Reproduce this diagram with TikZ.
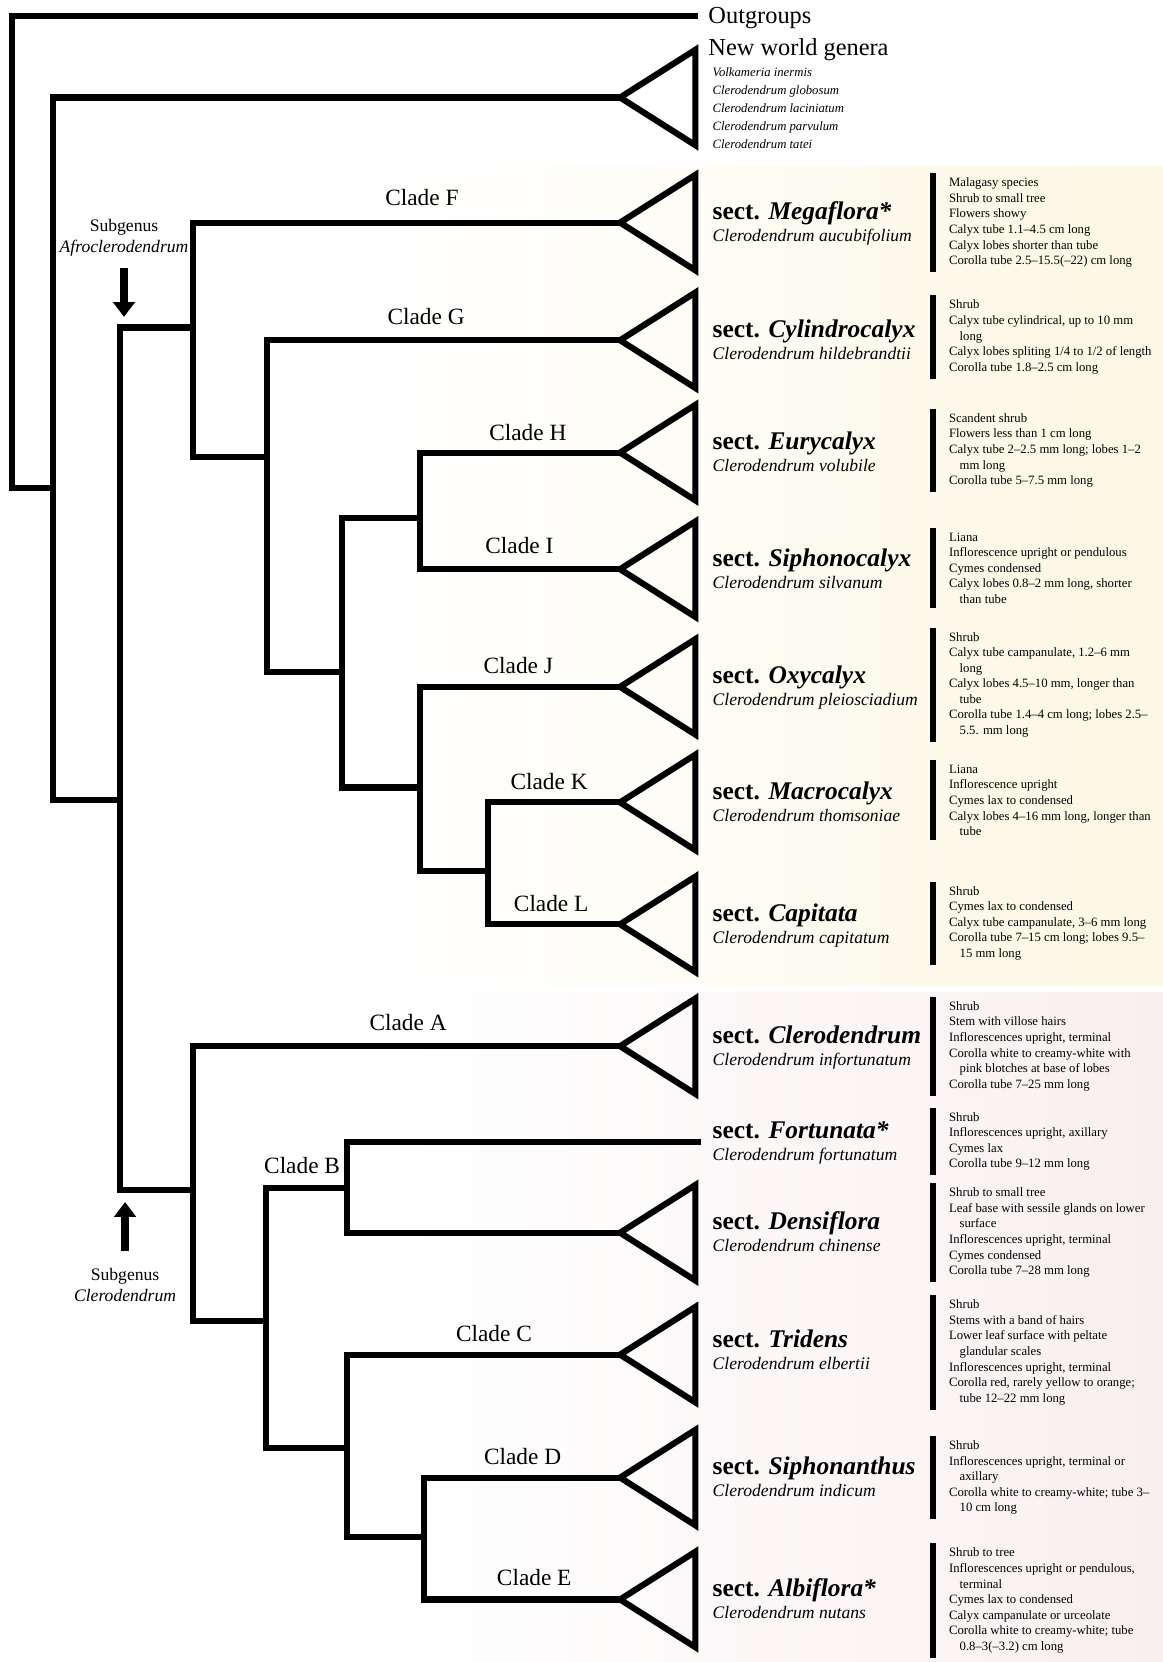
\documentclass[tikz,border=0pt]{standalone}
\usepackage{fontspec}
\setmainfont{Liberation Serif}
\usepackage{xcolor}
\usetikzlibrary{arrows.meta,positioning}
\definecolor{cream}{RGB}{252,247,227}
\definecolor{blush}{RGB}{250,239,240}
\colorlet{branch line}{black}
\def\collapsed{-- ++(71,-45) -- ++(0,90) -- cycle}
\newcommand\wrapind{\hspace*{5pt}}
\tikzset{branch/.style={draw=branch line, line width=2.9pt, line cap=rect},
    collapsed/.style={draw=branch line, line width=2.9pt, line join=miter},
    title/.style={anchor=west, inner sep=0pt, font=\fontsize{11.5}{13.8}\selectfont},
    clade label/.style={inner sep=0pt, font=\fontsize{11}{13}\selectfont},
    section/.style={anchor=base west, inner sep=0pt, font=\fontsize{12}{14}\selectfont\bfseries},
    species/.style={anchor=base west, inner sep=0pt, font=\fontsize{8.3}{10}\selectfont\itshape},
    traits/.style={anchor=west, align=left, inner xsep=7.5pt, inner ysep=2pt,
        font=\fontsize{6}{7.35}\selectfont},
    trait bar/.style={line width=2.6pt},
    subgenus/.style={align=center, inner sep=0pt, font=\fontsize{8.3}{10}\selectfont},
    subgenus arrow/.style={line width=4pt, -{Triangle[width=10pt,length=7pt]}}}

\begin{document}
\begin{tikzpicture}[x=0.5pt, y=-0.5pt]
    \useasboundingbox (0,0) rectangle (1097,1568);
    % shaded bands behind the two subgenera
    \fill[left color=white, right color=cream] (380,157) rectangle (1097,930);
    \fill[left color=white, right color=blush] (380,936) rectangle (1097,1568);

    % inner nodes and tips
    \coordinate (root) at (11,460);
    \coordinate (n1)   at (50,460);
    \coordinate (n2)   at (113,755);
    \coordinate (afro) at (182,309);
    \coordinate (cler) at (182,1123);
    \coordinate (n3)   at (252,431);
    \coordinate (n4)   at (323,634);
    \coordinate (n5)   at (396,489);
    \coordinate (n6)   at (396,743);
    \coordinate (n7)   at (460,822);
    \coordinate (n8)   at (251,1246);
    \coordinate (n9)   at (327,1121);
    \coordinate (n10)  at (327,1366);
    \coordinate (n11)  at (400,1450);
    \coordinate (tOG)  at (656,15);
    \coordinate (tNW)  at (585,92);
    \coordinate (tF)   at (585,210);
    \coordinate (tG)   at (585,321);
    \coordinate (tH)   at (585,427);
    \coordinate (tI)   at (585,537);
    \coordinate (tJ)   at (585,648);
    \coordinate (tK)   at (585,757);
    \coordinate (tL)   at (585,872);
    \coordinate (tA)   at (585,987);
    \coordinate (tFo)  at (658,1077);
    \coordinate (tDe)  at (585,1163);
    \coordinate (tC)   at (585,1278);
    \coordinate (tD)   at (585,1394);
    \coordinate (tE)   at (585,1509);

    % branches
    \draw[branch] (root) |- (tOG);
    \draw[branch] (root) -- (n1);
    \draw[branch] (n1) |- (tNW);
    \draw[branch] (n1) |- (n2);
    \draw[branch] (n2) |- (afro);
    \draw[branch] (n2) |- (cler);
    \draw[branch] (afro) |- (tF);
    \draw[branch] (afro) |- (n3);
    \draw[branch] (n3) |- (tG);
    \draw[branch] (n3) |- (n4);
    \draw[branch] (n4) |- (n5);
    \draw[branch] (n4) |- (n6);
    \draw[branch] (n5) |- (tH);
    \draw[branch] (n5) |- (tI);
    \draw[branch] (n6) |- (tJ);
    \draw[branch] (n6) |- (n7);
    \draw[branch] (n7) |- (tK);
    \draw[branch] (n7) |- (tL);
    \draw[branch] (cler) |- (tA);
    \draw[branch] (cler) |- (n8);
    \draw[branch] (n8) |- (n9);
    \draw[branch] (n8) |- (n10);
    \draw[branch] (n9) |- (tFo);
    \draw[branch] (n9) |- (tDe);
    \draw[branch] (n10) |- (tC);
    \draw[branch] (n10) |- (n11);
    \draw[branch] (n11) |- (tD);
    \draw[branch] (n11) |- (tE);

    % collapsed clades
    \draw[collapsed] (tNW) \collapsed;
    \draw[collapsed] (tF) \collapsed;
    \draw[collapsed] (tG) \collapsed;
    \draw[collapsed] (tH) \collapsed;
    \draw[collapsed] (tI) \collapsed;
    \draw[collapsed] (tJ) \collapsed;
    \draw[collapsed] (tK) \collapsed;
    \draw[collapsed] (tL) \collapsed;
    \draw[collapsed] (tA) \collapsed;
    \draw[collapsed] (tDe) \collapsed;
    \draw[collapsed] (tC) \collapsed;
    \draw[collapsed] (tD) \collapsed;
    \draw[collapsed] (tE) \collapsed;

    % clade labels
    \node[clade label] (lF) at (398,186)  {Clade F};
    \node[clade label] (lG) at (402,299)  {Clade G};
    \node[clade label] (lH) at (498,408)  {Clade H};
    \node[clade label] (lI) at (490,515)  {Clade I};
    \node[clade label] (lJ) at (489,628)  {Clade J};
    \node[clade label] (lK) at (518,737)  {Clade K};
    \node[clade label] (lL) at (520,852)  {Clade L};
    \node[clade label] (lA) at (385,965)  {Clade A};
    \node[clade label] (lB) at (285,1100) {Clade B};
    \node[clade label] (lC) at (466,1258) {Clade C};
    \node[clade label] (lD) at (493,1374) {Clade D};
    \node[clade label] (lE) at (504,1488) {Clade E};

    % subgenera
    \node[subgenus] (sgA) at (117,224) {Subgenus\\\textit{Afroclerodendrum}};
    \coordinate (aA1) at (117,253);
    \coordinate (aA2) at (117,299);
    \draw[subgenus arrow] (aA1) -- (aA2);
    \node[subgenus] (sgC) at (118,1212) {Subgenus\\\textit{Clerodendrum}};
    \coordinate (aC1) at (118,1180);
    \coordinate (aC2) at (118,1134);
    \draw[subgenus arrow] (aC1) -- (aC2);

    % outgroups and new world genera
    \node[title] (og) at (668,17) {Outgroups};
    \node[title] (nw) at (668,47) {New world genera};
    \node[anchor=north west, align=left, inner sep=0pt,
        font=\fontsize{6}{8.5}\selectfont\itshape] (nwList) at (672,63)
        {Volkameria inermis\\Clerodendrum globosum\\Clerodendrum laciniatum\\
         Clerodendrum parvulum\\Clerodendrum tatei};

    % sections
    \node[section] (sF)  at (672,207)  {sect. \textit{Megaflora*}};
    \node[species] (pF)  at (672,228)  {Clerodendrum aucubifolium};
    \node[section] (sG)  at (672,318)  {sect. \textit{Cylindrocalyx}};
    \node[species] (pG)  at (672,339)  {Clerodendrum hildebrandtii};
    \node[section] (sH)  at (672,424)  {sect. \textit{Eurycalyx}};
    \node[species] (pH)  at (672,445)  {Clerodendrum volubile};
    \node[section] (sI)  at (672,534)  {sect. \textit{Siphonocalyx}};
    \node[species] (pI)  at (672,555)  {Clerodendrum silvanum};
    \node[section] (sJ)  at (672,645)  {sect. \textit{Oxycalyx}};
    \node[species] (pJ)  at (672,666)  {Clerodendrum pleiosciadium};
    \node[section] (sK)  at (672,754)  {sect. \textit{Macrocalyx}};
    \node[species] (pK)  at (672,775)  {Clerodendrum thomsoniae};
    \node[section] (sL)  at (672,869)  {sect. \textit{Capitata}};
    \node[species] (pL)  at (672,890)  {Clerodendrum capitatum};
    \node[section] (sA)  at (672,984)  {sect. \textit{Clerodendrum}};
    \node[species] (pA)  at (672,1005) {Clerodendrum infortunatum};
    \node[section] (sFo) at (672,1074) {sect. \textit{Fortunata*}};
    \node[species] (pFo) at (672,1095) {Clerodendrum fortunatum};
    \node[section] (sDe) at (672,1160) {sect. \textit{Densiflora}};
    \node[species] (pDe) at (672,1181) {Clerodendrum chinense};
    \node[section] (sC)  at (672,1271) {sect. \textit{Tridens}};
    \node[species] (pC)  at (672,1292) {Clerodendrum elbertii};
    \node[section] (sD)  at (672,1391) {sect. \textit{Siphonanthus}};
    \node[species] (pD)  at (672,1412) {Clerodendrum indicum};
    \node[section] (sE)  at (672,1506) {sect. \textit{Albiflora*}};
    \node[species] (pE)  at (672,1527) {Clerodendrum nutans};

    % characters
    \node[traits] (cF) at (880,210) {Malagasy species\\Shrub to small tree\\Flowers showy\\
        Calyx tube 1.1–4.5 cm long\\Calyx lobes shorter than tube\\
        Corolla tube 2.5–15.5(–22) cm long};
    \node[traits] (cG) at (880,318) {Shrub\\Calyx tube cylindrical, up to 10 mm\\\wrapind long\\
        Calyx lobes spliting 1/4 to 1/2 of length\\Corolla tube 1.8–2.5 cm long};
    \node[traits] (cH) at (880,425) {Scandent shrub\\Flowers less than 1 cm long\\
        Calyx tube 2–2.5 mm long; lobes 1–2\\\wrapind mm long\\Corolla tube 5–7.5 mm long};
    \node[traits] (cI) at (880,536) {Liana\\Inflorescence upright or pendulous\\Cymes condensed\\
        Calyx lobes 0.8–2 mm long, shorter\\\wrapind than tube};
    \node[traits] (cJ) at (880,646) {Shrub\\Calyx tube campanulate, 1.2–6 mm\\\wrapind long\\
        Calyx lobes 4.5–10 mm, longer than\\\wrapind tube\\
        Corolla tube 1.4–4 cm long; lobes 2.5–\\\wrapind 5.5. mm long};
    \node[traits] (cK) at (880,755) {Liana\\Inflorescence upright\\Cymes lax to condensed\\
        Calyx lobes 4–16 mm long, longer than\\\wrapind tube};
    \node[traits] (cL) at (880,871) {Shrub\\Cymes lax to condensed\\
        Calyx tube campanulate, 3–6 mm long\\Corolla tube 7–15 cm long; lobes 9.5–\\\wrapind 15 mm long};
    \node[traits] (cA) at (880,987) {Shrub\\Stem with villose hairs\\Inflorescences upright, terminal\\
        Corolla white to creamy-white with\\\wrapind pink blotches at base of lobes\\
        Corolla tube 7–25 mm long};
    \node[traits] (cFo) at (880,1077) {Shrub\\Inflorescences upright, axillary\\Cymes lax\\
        Corolla tube 9–12 mm long};
    \node[traits] (cDe) at (880,1163) {Shrub to small tree\\Leaf base with sessile glands on lower\\
        \wrapind surface\\Inflorescences upright, terminal\\Cymes condensed\\Corolla tube 7–28 mm long};
    \node[traits] (cC) at (880,1276) {Shrub\\Stems with a band of hairs\\Lower leaf surface with peltate\\
        \wrapind glandular scales\\Inflorescences upright, terminal\\
        Corolla red, rarely yellow to orange;\\\wrapind tube 12–22 mm long};
    \node[traits] (cD) at (880,1394) {Shrub\\Inflorescences upright, terminal or\\\wrapind axillary\\
        Corolla white to creamy-white; tube 3–\\\wrapind 10 cm long};
    \node[traits] (cE) at (880,1510) {Shrub to tree\\Inflorescences upright or pendulous,\\\wrapind terminal\\
        Cymes lax to condensed\\Calyx campanulate or urceolate\\
        Corolla white to creamy-white; tube\\\wrapind 0.8–3(–3.2) cm long};
    \draw[trait bar] (cF.north west) -- (cF.south west);
    \draw[trait bar] (cG.north west) -- (cG.south west);
    \draw[trait bar] (cH.north west) -- (cH.south west);
    \draw[trait bar] (cI.north west) -- (cI.south west);
    \draw[trait bar] (cJ.north west) -- (cJ.south west);
    \draw[trait bar] (cK.north west) -- (cK.south west);
    \draw[trait bar] (cL.north west) -- (cL.south west);
    \draw[trait bar] (cA.north west) -- (cA.south west);
    \draw[trait bar] (cFo.north west) -- (cFo.south west);
    \draw[trait bar] (cDe.north west) -- (cDe.south west);
    \draw[trait bar] (cC.north west) -- (cC.south west);
    \draw[trait bar] (cD.north west) -- (cD.south west);
    \draw[trait bar] (cE.north west) -- (cE.south west);
\end{tikzpicture}
\end{document}
